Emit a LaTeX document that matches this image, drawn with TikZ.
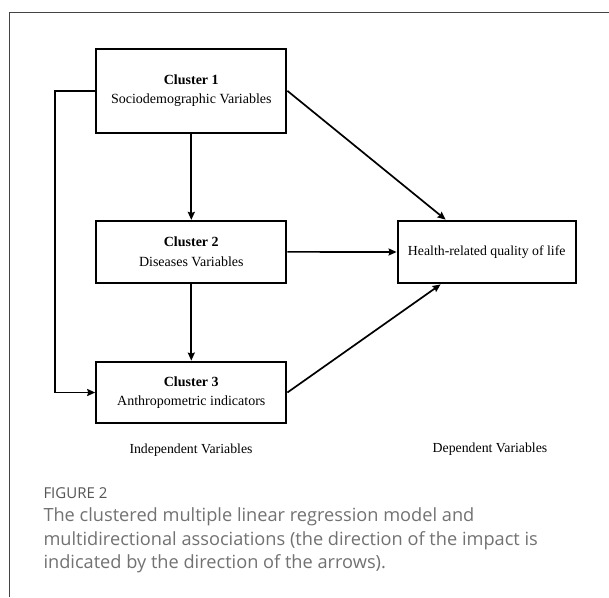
\documentclass[tikz,border=0pt]{standalone}
\usepackage{fontspec}
\setmainfont{Liberation Serif}
\newfontfamily\capfont{Open Sans}
\usetikzlibrary{calc,arrows.meta}
\definecolor{framegray}{HTML}{444444}
\definecolor{capgray}{HTML}{727272}
\definecolor{figgray}{HTML}{555555}
\begin{document}
\begin{tikzpicture}[x=1pt,y=-1pt,
  box/.style={draw, line width=2.2pt, minimum width=190pt, align=center, inner sep=0pt,
    font=\fontsize{14}{19.3}\selectfont},
  conn/.style={line width=1.7pt, -{Stealth[length=8pt,width=7pt,inset=1pt]}},
  lab/.style={font=\fontsize{13.8}{16}\selectfont, inner sep=0pt}]
\useasboundingbox (0,0) rectangle (609,597);
\fill[white] (0,0) rectangle (609,597);
\draw[framegray, line width=1.1pt] (9.3,597) -- (9.3,12.3) -- (609,12.3);

\node[box, minimum height=83.7pt] (c1) at (191.3,90.85) {\textbf{Cluster 1}\\Sociodemographic Variables};
\node[box, minimum height=61.7pt] (c2) at (191.3,251.85) {\textbf{Cluster 2}\\Diseases Variables};
\node[box, minimum height=61.6pt] (c3) at (191.3,392.5) {\textbf{Cluster 3}\\Anthropometric indicators};
\node[box, minimum width=178pt, minimum height=62.6pt, font=\fontsize{13.8}{16}\selectfont] (h) at (486.7,252) {Health-related quality of life};

\coordinate (ht) at ($(h.north west)+(49,0)$);
\coordinate (hb) at ($(h.south west)+(44,0)$);

\draw[conn] (c1.south) -- (c2.north);
\draw[conn] (c2.south) -- (c3.north);
\draw[conn] (c2.east) -- (h.west);
\draw[conn] (c1.east) -- (ht);
\draw[conn] (c3.east) -- (hb);
\draw[conn] (c1.west) -- ++(-40.3,0) |- (c3.west);

\node[lab] (iv) at (191,450) {Independent Variables};
\node[lab] (dv) at (490,449.5) {Dependent Variables};

\node[anchor=west, inner sep=0pt, text=figgray, font=\capfont\fontsize{15}{18}\selectfont] (fig) at (43.3,493.3) {FIGURE 2};
\node[anchor=north west, inner sep=0pt, align=left, text=capgray,
  font=\capfont\fontsize{18.2}{23.7}\selectfont] (cap) at (43.3,507.5)
  {The clustered multiple linear regression model and\\
   multidirectional associations (the direction of the impact is\\
   indicated by the direction of the arrows).};
\end{tikzpicture}
\end{document}
